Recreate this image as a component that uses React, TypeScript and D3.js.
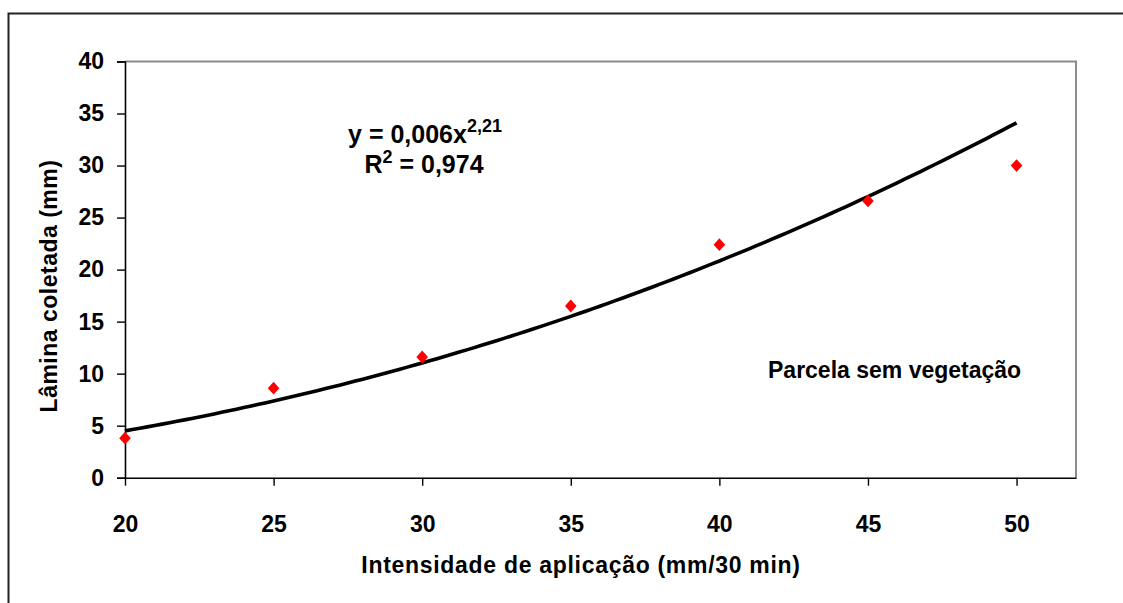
import React, { useRef, useEffect } from 'react';
import * as d3 from 'd3';

// applied intensity (mm/30 min) and collected depth (mm)
const intensity = [20, 25, 30, 35, 40, 45, 50];
const depth = [3.8, 8.6, 11.6, 16.5, 22.4, 26.6, 30.0];
const xTicks = [20, 25, 30, 35, 40, 45, 50];
const yTicks = [0, 5, 10, 15, 20, 25, 30, 35, 40];
// power trend line shown in the chart: y = a * x^b
const coefA = 0.006;
const coefB = 2.21;

const App = () => {
  const ref = useRef<SVGSVGElement>(null);

  useEffect(() => {
    const W = 1123;
    const H = 603;
    const font = '"Liberation Sans", Arial, sans-serif';
    const svg = d3.select(ref.current).attr('width', W).attr('height', H);
    svg.selectAll('*').remove();

    svg.append('rect').attr('width', W).attr('height', H).attr('fill', '#fff');

    // outer frame (runs off the right and bottom of the picture)
    svg
      .append('rect')
      .attr('x', 8.5)
      .attr('y', 13.5)
      .attr('width', 1200)
      .attr('height', 700)
      .attr('fill', 'none')
      .attr('stroke', '#222')
      .attr('stroke-width', 2);

    const left = 125;
    const right = 1076;
    const top = 61.5;
    const bottom = 477.7;

    const x = d3.scaleLinear().domain([20, 52]).range([left, right]);
    const y = d3.scaleLinear().domain([0, 40]).range([bottom, top]);

    // plot area frame (grey top/right)
    svg
      .append('path')
      .attr('d', `M${left},${top}H${right}V${bottom}`)
      .attr('fill', 'none')
      .attr('stroke', '#8c8c8c')
      .attr('stroke-width', 2);

    // y axis
    const yAxis = svg
      .append('g')
      .attr('transform', `translate(${left},0)`)
      .call(d3.axisLeft(y).tickValues(yTicks).tickSize(8).tickPadding(13).tickFormat(d3.format('d')));
    yAxis.select('.domain').attr('stroke', '#000').attr('stroke-width', 1.6);
    yAxis.selectAll('.tick line').attr('stroke', '#000').attr('stroke-width', 1.4);
    yAxis
      .selectAll('.tick text')
      .attr('font-family', font)
      .attr('font-weight', 'bold')
      .attr('font-size', 23)
      .attr('fill', '#000');

    // x axis
    const xAxis = svg
      .append('g')
      .attr('transform', `translate(0,${bottom})`)
      .call(d3.axisBottom(x).tickValues(xTicks).tickSize(8).tickPadding(30).tickFormat(d3.format('d')).tickSizeOuter(0));
    xAxis.select('.domain').attr('stroke', '#000').attr('stroke-width', 1.6);
    xAxis.selectAll('.tick line').attr('stroke', '#000').attr('stroke-width', 1.4);
    xAxis
      .selectAll('.tick text')
      .attr('font-family', font)
      .attr('font-weight', 'bold')
      .attr('font-size', 23)
      .attr('fill', '#000');

    // trend line
    const xs = d3.range(20, 50.01, 0.25);
    const line = d3
      .line<number>()
      .x((d) => x(d))
      .y((d) => y(coefA * Math.pow(d, coefB)));
    svg
      .append('path')
      .datum(xs)
      .attr('d', line)
      .attr('fill', 'none')
      .attr('stroke', '#000')
      .attr('stroke-width', 3.6);

    // observed points (diamonds)
    svg
      .selectAll('.pt')
      .data(intensity.map((v, i) => [v, depth[i]]))
      .enter()
      .append('path')
      .attr('class', 'pt')
      .attr('d', (d) => {
        const cx = x(d[0]);
        const cy = y(d[1]);
        return `M${cx},${cy - 6.4}L${cx + 5.8},${cy}L${cx},${cy + 6.4}L${cx - 5.8},${cy}Z`;
      })
      .attr('fill', '#ff0000');

    // equation
    const eq = svg
      .append('text')
      .attr('x', 425)
      .attr('y', 143)
      .attr('text-anchor', 'middle')
      .attr('font-family', font)
      .attr('font-weight', 'bold')
      .attr('font-size', 25)
      .attr('fill', '#000');
    eq.append('tspan').text('y = 0,006x');
    eq.append('tspan').attr('font-size', 18).attr('dy', -11).text('2,21');

    const r2 = svg
      .append('text')
      .attr('x', 424)
      .attr('y', 173)
      .attr('text-anchor', 'middle')
      .attr('font-family', font)
      .attr('font-weight', 'bold')
      .attr('font-size', 25)
      .attr('fill', '#000');
    r2.append('tspan').text('R');
    r2.append('tspan').attr('font-size', 18).attr('dy', -10).text('2');
    r2.append('tspan').attr('dy', 10).text(' = 0,974');

    // series label
    svg
      .append('text')
      .attr('x', 768)
      .attr('y', 378)
      .attr('font-family', font)
      .attr('font-weight', 'bold')
      .attr('font-size', 23)
      .attr('fill', '#000')
      .text('Parcela sem vegetação');

    // axis titles
    svg
      .append('text')
      .attr('x', 581)
      .attr('y', 573)
      .attr('text-anchor', 'middle')
      .attr('font-family', font)
      .attr('font-weight', 'bold')
      .attr('font-size', 23)
      .attr('letter-spacing', 0.7)
      .attr('fill', '#000')
      .text('Intensidade de aplicação (mm/30 min)');

    svg
      .append('text')
      .attr('transform', 'translate(57,286) rotate(-90)')
      .attr('text-anchor', 'middle')
      .attr('font-family', font)
      .attr('font-weight', 'bold')
      .attr('font-size', 23)
      .attr('letter-spacing', 0.5)
      .attr('fill', '#000')
      .text('Lâmina coletada (mm)');
  }, []);

  return <svg ref={ref} style={{ position: 'absolute', left: 0, top: 0 }}></svg>;
};

export default App;
